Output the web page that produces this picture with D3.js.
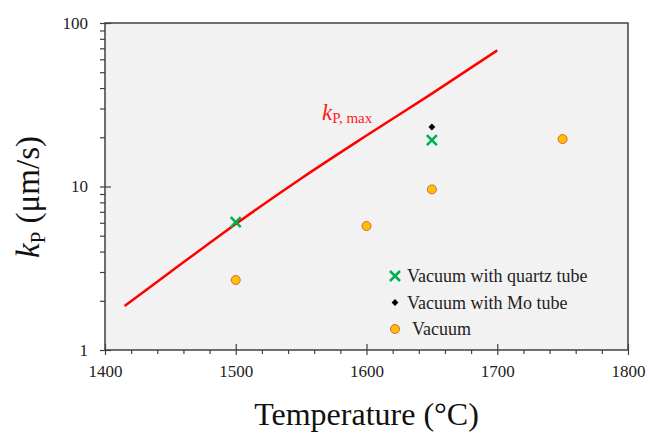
<!DOCTYPE html>
<html>
<head>
<meta charset="utf-8">
<script src="https://cdn.jsdelivr.net/npm/d3@7"></script>
<style>
  body { margin: 0; background: #fff; }
  text { font-family: "Liberation Serif", "Times New Roman", serif; }
</style>
</head>
<body>
<div id="chart"></div>
<script>
// data
var lineTemps = [1415, 1450, 1500, 1550, 1600, 1650, 1700];
var lineK = [1.86, 3.0, 5.9, 11.2, 20.5, 37, 68];

var quartzTemps = [1500, 1650];
var quartzK = [6.05, 19.2];

var moTemps = [1650];
var moK = [23.1];

var vacTemps = [1500, 1600, 1650, 1750];
var vacK = [2.68, 5.73, 9.6, 19.5];

var xTicks = [1400, 1500, 1600, 1700, 1800];
var yTicks = [1, 10, 100];

// set the dimensions and margins of the graph
var margin = {top: 23, right: 22, bottom: 86, left: 105},
    width = 650 - margin.left - margin.right,
    height = 436 - margin.top - margin.bottom;

var x = d3.scaleLinear().domain([1400, 1800]).range([0, width]);
var y = d3.scaleLog().domain([1, 100]).range([height, 0]);

var svg = d3.select("#chart").append("svg")
    .attr("width", 650)
    .attr("height", 436);

var g = svg.append("g")
    .attr("transform", `translate(${margin.left}, ${margin.top})`);

// plot background
g.append("rect")
    .attr("width", width)
    .attr("height", height)
    .attr("fill", "#f2f2f2");

// minor ticks
var yMinor = [];
[1, 10].forEach(function(d) {
  for (var i = 2; i <= 9; i++) yMinor.push(d * i);
});
var xMinor = d3.range(1400, 1801, 20).filter(function(d) { return d % 100 != 0; });

function styleAxis(sel) {
  sel.attr("font-family", null).attr("font-size", null);
  sel.select(".domain").remove();
  sel.selectAll("line").attr("stroke", "#404040").attr("stroke-width", 1.2);
  sel.selectAll("text")
     .attr("fill", "#222")
     .style("font-family", "'Liberation Serif', serif")
     .style("font-size", "17px");
}

// y axis
g.append("g")
    .call(d3.axisLeft(y).tickValues(yTicks).tickSize(5).tickPadding(12).tickFormat(d3.format("d")))
    .call(styleAxis);
g.append("g")
    .call(d3.axisRight(y).tickValues(yTicks).tickSize(6).tickFormat(""))
    .call(styleAxis);
g.append("g")
    .call(d3.axisLeft(y).tickValues(yMinor).tickSize(5).tickFormat(""))
    .call(styleAxis);

// x axis
g.append("g")
    .attr("transform", `translate(0, ${height})`)
    .call(d3.axisBottom(x).tickValues(xTicks).tickSize(5).tickPadding(10).tickFormat(d3.format("d")))
    .call(styleAxis);
g.append("g")
    .attr("transform", `translate(0, ${height})`)
    .call(d3.axisTop(x).tickValues(xTicks).tickSize(6).tickFormat(""))
    .call(styleAxis);
g.append("g")
    .attr("transform", `translate(0, ${height})`)
    .call(d3.axisBottom(x).tickValues(xMinor).tickSize(4).tickFormat(""))
    .call(styleAxis);

// frame
g.append("rect")
    .attr("width", width)
    .attr("height", height)
    .attr("fill", "none")
    .attr("stroke", "#404040")
    .attr("stroke-width", 1.5);

// k_P,max line
var lineData = lineTemps.map(function(t, i) { return {t: t, k: lineK[i]}; });
g.append("path")
    .datum(lineData)
    .attr("fill", "none")
    .attr("stroke", "#ff0000")
    .attr("stroke-width", 2.5)
    .attr("d", d3.line()
        .curve(d3.curveMonotoneX)
        .x(function(d) { return x(d.t); })
        .y(function(d) { return y(d.k); }));

var lbl = g.append("text")
    .attr("x", x(1566))
    .attr("y", y(25.5))
    .attr("fill", "#ff2020");
lbl.append("tspan").style("font-style", "italic").style("font-size", "23px").text("k");
lbl.append("tspan").style("font-size", "15px").attr("dy", 3).text("P, max");

// markers
function drawX(sel, cx, cy) {
  sel.append("path")
      .attr("d", "M-5,-5L5,5M-5,5L5,-5")
      .attr("transform", `translate(${cx}, ${cy})`)
      .attr("stroke", "#00b050")
      .attr("stroke-width", 2.5)
      .attr("fill", "none");
}
function drawDiamond(sel, cx, cy) {
  sel.append("path")
      .attr("d", d3.symbol().type(d3.symbolDiamond2).size(30)())
      .attr("transform", `translate(${cx}, ${cy})`)
      .attr("fill", "#000");
}
function drawCircle(sel, cx, cy) {
  sel.append("circle")
      .attr("cx", cx)
      .attr("cy", cy)
      .attr("r", 4.5)
      .attr("fill", "#ffc000")
      .attr("stroke", "#e0603a")
      .attr("stroke-width", 1);
}

vacTemps.forEach(function(t, i) { drawCircle(g, x(t), y(vacK[i])); });
quartzTemps.forEach(function(t, i) { drawX(g, x(t), y(quartzK[i])); });
moTemps.forEach(function(t, i) { drawDiamond(g, x(t), y(moK[i])); });

// legend
var legend = svg.append("g").attr("transform", "translate(395, 276)");
var legendItems = [
  {name: "Vacuum with quartz tube", draw: drawX, dx: 12},
  {name: "Vacuum with Mo tube", draw: drawDiamond, dx: 12},
  {name: "Vacuum", draw: drawCircle, dx: 17}
];
legendItems.forEach(function(d, i) {
  var cy = i * 26.5;
  d.draw(legend, 0, cy);
  legend.append("text")
      .attr("x", d.dx)
      .attr("y", cy + 6)
      .attr("fill", "#222")
      .style("font-size", "18px")
      .text(d.name);
});

// axis titles
svg.append("text")
    .attr("x", margin.left + width / 2)
    .attr("y", 425)
    .attr("text-anchor", "middle")
    .attr("fill", "#111")
    .style("font-size", "32px")
    .text("Temperature (\u00b0C)");

var yt = svg.append("text")
    .attr("transform", "translate(39, 197) rotate(-90)")
    .attr("text-anchor", "middle")
    .attr("fill", "#111")
    .style("font-size", "33px");
yt.append("tspan").style("font-style", "italic").text("k");
yt.append("tspan").style("font-size", "21px").attr("dy", 6).text("P");
yt.append("tspan").attr("dy", -6).text(" (\u03bcm/s)");
</script>
</body>
</html>
